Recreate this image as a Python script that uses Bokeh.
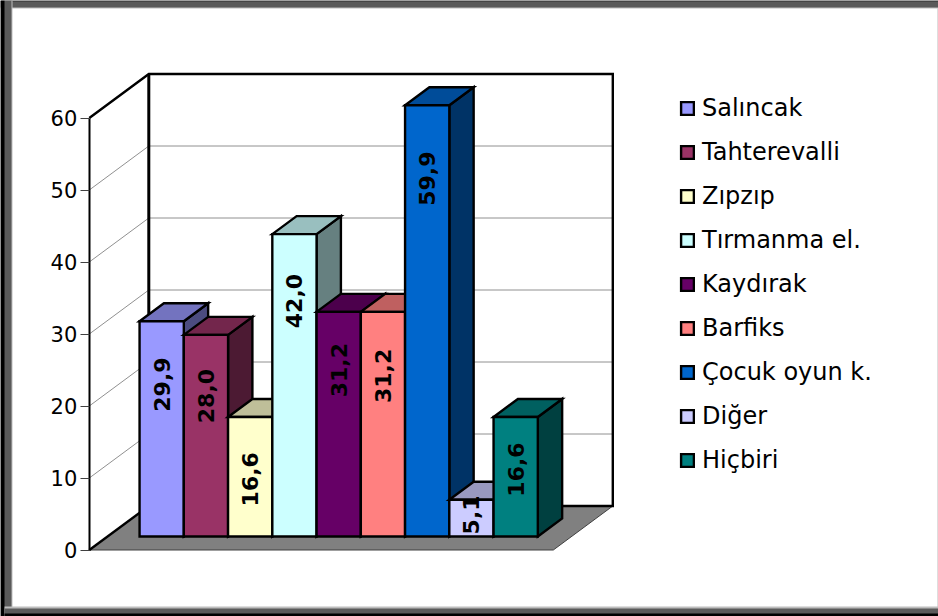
import math
from bokeh.core.properties import value
from bokeh.embed import file_html
from bokeh.models import BoxAnnotation, FixedTicker, Legend, LegendItem, Range1d
from bokeh.plotting import figure
from bokeh.resources import INLINE

# ---- data ----
categories = ["Salıncak", "Tahterevalli", "Zıpzıp", "Tırmanma el.", "Kaydırak",
              "Barfiks", "Çocuk oyun k.", "Diğer", "Hiçbiri"]
values = [29.9, 28.0, 16.6, 42.0, 31.2, 31.2, 59.9, 5.1, 16.6]
label_heights = [21.1, 19.5, 7.95, 32.7, 23.1, 22.3, 49.7, 3.0, 9.3]
tick_values = [0, 10, 20, 30, 40, 50, 60]

# ---- styling ----
colors = ["#9999FF", "#993366", "#FFFFCC", "#CCFFFF", "#660066",
          "#FF8080", "#0066CC", "#CCCCFF", "#008080"]
W, H = 938, 616
PX_X = 44.25          # pixels per bar width
PX_Y = 7.2            # pixels per value unit
ORIGIN_X = 120.8      # pixel of bar slot 0 at depth 0
ORIGIN_Y = 549.5      # pixel of value 0 at depth 0
DEPTH_DX = 59.5 / PX_X  # full chart depth, horizontally, in bar widths
DEPTH_DY = 44 / PX_Y    # full chart depth, vertically, in value units
BAR_D0, BAR_D1 = 0.307, 0.716
LEFT = (88.8 - ORIGIN_X) / PX_X
RIGHT = (552.8 - ORIGIN_X) / PX_X
TOP = 60


def X(x, d=0.0):
    return x + d * DEPTH_DX


def Y(v, d=0.0):
    return v + d * DEPTH_DY


def shade(hex_color, f):
    r, g, b = (int(hex_color[i:i + 2], 16) for i in (1, 3, 5))
    return "#%02X%02X%02X" % (round(r * f), round(g * f), round(b * f))


p = figure(width=W, height=H, output_backend="svg", toolbar_location=None,
           x_range=Range1d(-ORIGIN_X / PX_X, (W - ORIGIN_X) / PX_X),
           y_range=Range1d((ORIGIN_Y - H) / PX_Y, ORIGIN_Y / PX_Y),
           x_axis_location=None, min_border=0, outline_line_color=None,
           background_fill_color="white", border_fill_color="white")
p.grid.visible = False

# ---- walls and floor ----
p.patch([X(LEFT, 1), X(RIGHT, 1), X(RIGHT, 0), X(LEFT, 0)],
        [Y(0, 1), Y(0, 1), Y(0, 0), Y(0, 0)],
        fill_color="#808080", line_color="#404040", line_width=1)

for t in tick_values[1:-1]:
    p.line([X(LEFT, 0), X(LEFT, 1), X(RIGHT, 1)], [Y(t, 0), Y(t, 1), Y(t, 1)],
           line_color="#909090", line_width=1)

wall = dict(line_color="black", line_width=2.4, line_join="miter")
p.line([X(LEFT, 0), X(LEFT, 1)], [Y(0, 0), Y(0, 1)], **wall)
p.line([X(LEFT, 1), X(LEFT, 1)], [Y(0, 1), Y(TOP, 1)],
       line_color="black", line_width=3)
p.line([X(LEFT, 0), X(LEFT, 1), X(RIGHT, 1), X(RIGHT, 1), X(LEFT, 1)],
       [Y(TOP, 0), Y(TOP, 1), Y(TOP, 1), Y(0, 1), Y(0, 1)], **wall)

# ---- value axis, real Bokeh axis pinned to the front-left edge ----
axis = p.yaxis[0]
axis.fixed_location = X(LEFT, 0)
axis.bounds = (0, 60)
axis.ticker = FixedTicker(ticks=tick_values)
axis.minor_tick_line_color = None
axis.major_tick_in = 0
axis.major_tick_out = 9
axis.major_tick_line_color = "#404040"
axis.major_tick_line_width = 1
axis.axis_line_color = "black"
axis.axis_line_width = 2
axis.major_label_standoff = 3
axis.major_label_text_font = "DejaVu Sans"
axis.major_label_text_font_size = "21px"
axis.major_label_text_color = "black"

# ---- bars, painted left to right ----
edge = dict(line_color="black", line_width=2.4, line_join="miter")
items = []
for i, (name, v, c) in enumerate(zip(categories, values, colors)):
    p.patch([X(i + 1, BAR_D0), X(i + 1, BAR_D1), X(i + 1, BAR_D1), X(i + 1, BAR_D0)],
            [Y(0, BAR_D0), Y(0, BAR_D1), Y(v, BAR_D1), Y(v, BAR_D0)],
            fill_color=shade(c, 0.5), **edge)
    p.patch([X(i, BAR_D0), X(i, BAR_D1), X(i + 1, BAR_D1), X(i + 1, BAR_D0)],
            [Y(v, BAR_D0), Y(v, BAR_D1), Y(v, BAR_D1), Y(v, BAR_D0)],
            fill_color=shade(c, 0.75), **edge)
    front = p.quad(left=[X(i, BAR_D0)], right=[X(i + 1, BAR_D0)],
                   bottom=[Y(0, BAR_D0)], top=[Y(v, BAR_D0)],
                   fill_color=c, **edge)
    items.append(LegendItem(label=name, renderers=[front]))

# ---- value labels ----
p.text(x=[X(i + 0.5, BAR_D0) for i in range(len(values))],
       y=[Y(h, BAR_D0) for h in label_heights],
       text=[f"{v:.1f}".replace(".", ",") for v in values],
       angle=math.pi / 2, text_align="center", text_baseline="middle",
       text_font=value("DejaVu Sans"), text_font_style="bold",
       text_font_size="22px", text_color="black")

# ---- legend ----
legend = Legend(items=items, location=(679, 142), orientation="vertical",
                background_fill_alpha=0, border_line_color=None,
                padding=0, margin=0, spacing=16,
                glyph_width=16, glyph_height=16, label_standoff=7,
                label_text_font="DejaVu Sans", label_text_font_size="24px",
                label_text_color="black", label_height=28)
p.add_layout(legend, "center")

# ---- window frame (box screen units count from the bottom edge) ----
def band(l, r, t, b, color):
    p.add_layout(BoxAnnotation(left=l, right=r, top=H - t, bottom=H - b,
                               left_units="screen", right_units="screen",
                               top_units="screen", bottom_units="screen",
                               fill_color=color, fill_alpha=1, line_alpha=0,
                               level="overlay"))


band(0, W, 0, 8, "#BDBDBD")
band(0, W, 0, 7, "#5A5A5A")
band(0, W, 0, 1, "#303030")
band(0, 12, 0, H, "#BDBDBD")
band(0, 11, 0, H, "#5A5A5A")
band(0, 4, 0, H, "black")
band(937, W, 8, H, "#BDBDBD")
band(4, W, 606, H, "#BDBDBD")
band(4, W, 608, H, "#5A5A5A")
band(4, W, 613, H, "black")

open("out.html", "w").write(file_html(p, INLINE))
